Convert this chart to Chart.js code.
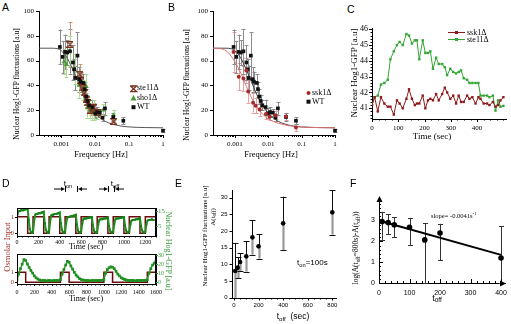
<!DOCTYPE html>
<html>
<head>
<meta charset="utf-8">
<title>Hog1 response figure</title>
<script src="https://cdn.jsdelivr.net/npm/chart.js@4.4.1/dist/chart.umd.min.js"></script>
<style>
  html, body { margin: 0; padding: 0; background: #fff; }
  #fig { position: relative; width: 511px; height: 324px; overflow: hidden; font-family: "Liberation Serif", "Times New Roman", serif; color: #000; }
  #fig canvas, #fig svg { position: absolute; }
  .t { position: absolute; white-space: nowrap; line-height: 1; }
  .c { transform: translate(-50%, -50%); }
  .l { transform: translate(0, -50%); }
  .v { transform: translate(-50%, -50%) rotate(-90deg); }
  .v2 { transform: translate(-50%, -50%) rotate(90deg); }
  .sans { font-family: "Liberation Sans", Arial, sans-serif; }
  .lab { font-family: "Liberation Sans", Arial, sans-serif; font-size: 10.5px; }
  sub, sup { font-size: 72%; line-height: 0; }
  sub { vertical-align: -0.3em; }
  sup { vertical-align: 0.5em; }
</style>
</head>
<body>
<div id="fig">
  <canvas id="chartA" width="155" height="147" style="left:14px;top:3px"></canvas>
  <canvas id="chartB" width="152" height="147" style="left:188px;top:3px"></canvas>
  <canvas id="chartC" width="156" height="112" style="left:355px;top:20px"></canvas>
  <canvas id="chartD1" width="164" height="46" style="left:8px;top:200px"></canvas>
  <canvas id="chartD2" width="164" height="50" style="left:8px;top:248px"></canvas>
  <canvas id="chartE" width="125" height="127" style="left:215px;top:183px"></canvas>
  <canvas id="chartF" width="153" height="110" style="left:358px;top:190px"></canvas>

  <!-- Panel A text -->
  <div class="t lab" style="left:2px;top:1.5px">A</div>
  <div class="t v" style="left:17px;top:84px;font-size:7.5px">Nuclear Hog1-GFP fluctuations [a.u]</div>
  <div class="t c" style="left:101px;top:154px;font-size:8.5px">Frequency [Hz]</div>
  <svg style="left:129.5px;top:84.5px" width="8" height="26">
    <path d="M0.5 1H6.5L0.5 6.6H6.5Z" fill="none" stroke="#7a2e1e" stroke-width="1.3"/>
    <polygon points="3.5,10 6.5,15.5 0.5,15.5" fill="#4a9a35"/>
    <rect x="1.5" y="20.2" width="4" height="4" fill="#111"/>
  </svg>
  <div class="t l" style="left:137px;top:88.3px;font-size:8px">ste11Δ</div>
  <div class="t l" style="left:137px;top:97.5px;font-size:8px">sho1Δ</div>
  <div class="t l" style="left:137px;top:106.7px;font-size:8px">WT</div>

  <!-- Panel B text -->
  <div class="t lab" style="left:168px;top:2px">B</div>
  <div class="t v" style="left:187px;top:85px;font-size:7.5px">Nuclear Hog1-GFP fluctuations [a.u]</div>
  <div class="t c" style="left:271px;top:154px;font-size:8.5px">Frequency [Hz]</div>
  <svg style="left:305px;top:89px" width="8" height="17">
    <circle cx="3.5" cy="4" r="2" fill="#a52a2a"/>
    <rect x="1.5" y="10.7" width="4" height="4" fill="#111"/>
  </svg>
  <div class="t l" style="left:312px;top:93px;font-size:8px">ssk1Δ</div>
  <div class="t l" style="left:312px;top:101.7px;font-size:8px">WT</div>

  <!-- Panel C text -->
  <div class="t lab" style="left:347px;top:3.5px">C</div>
  <div class="t v" style="left:353.5px;top:73px;font-size:9px">Nuclear Hog1-GFP [a.u]</div>
  <div class="t c" style="left:432px;top:136px;font-size:9px">Time (sec)</div>
  <svg style="left:447px;top:29px" width="19" height="14">
    <line x1="1" y1="3.5" x2="18" y2="3.5" stroke="#8e1b1b"/>
    <rect x="8" y="2" width="3" height="3" fill="#8e1b1b"/>
    <line x1="1" y1="10.5" x2="18" y2="10.5" stroke="#34a634"/>
    <rect x="8" y="9" width="3" height="3" fill="#34a634"/>
  </svg>
  <div class="t l" style="left:467px;top:32.5px;font-size:8px">ssk1Δ</div>
  <div class="t l" style="left:467px;top:39.5px;font-size:8px">ste11Δ</div>

  <!-- Panel D text -->
  <div class="t lab" style="left:2px;top:177.5px">D</div>
  <div class="t c sans" style="left:68px;top:184px;font-size:8px">t<sub>on</sub></div>
  <div class="t c sans" style="left:115px;top:184px;font-size:8px">t<sub>off</sub></div>
  <svg style="left:50px;top:184px" width="80" height="10">
    <line x1="4" y1="5" x2="12" y2="5" stroke="#000"/>
    <polygon points="15,5 11,3 11,7" fill="#000"/>
    <line x1="15.5" y1="2" x2="15.5" y2="8" stroke="#000"/>
    <line x1="27.5" y1="2" x2="27.5" y2="8" stroke="#000"/>
    <polygon points="28,5 32,3 32,7" fill="#000"/>
    <line x1="31" y1="5" x2="37" y2="5" stroke="#000"/>
    <line x1="49" y1="5" x2="55" y2="5" stroke="#000"/>
    <polygon points="58,5 54,3 54,7" fill="#000"/>
    <line x1="58.5" y1="2" x2="58.5" y2="8" stroke="#000"/>
    <line x1="64.5" y1="2" x2="64.5" y2="8" stroke="#000"/>
    <polygon points="65,5 69,3 69,7" fill="#000"/>
    <line x1="68" y1="5" x2="74" y2="5" stroke="#000"/>
  </svg>
  <div class="t c" style="left:86px;top:246.5px;font-size:8px">Time (sec)</div>
  <div class="t c" style="left:86px;top:299px;font-size:8px">Time (sec)</div>
  <div class="t v" style="left:7px;top:247px;font-size:8.5px;color:#a33a2e">Osmolar Input</div>
  <div class="t v2" style="left:168px;top:251px;font-size:8px;color:#3d9a3d">Nuclear Hog1-GFP [a.u]</div>

  <!-- Panel E text -->
  <div class="t lab" style="left:175px;top:177.5px">E</div>
  <div class="t v" style="left:205px;top:236px;font-size:6.8px">Nuclear Hog1-GFP fluctuations [a.u]</div>
  <div class="t v" style="left:212.5px;top:217px;font-size:7px">A(t<sub>off</sub>)</div>
  <div class="t l sans" style="left:297px;top:263px;font-size:8px">t<sub>on</sub>=100s</div>
  <div class="t c sans" style="left:293px;top:316px;font-size:8.5px">t<sub>off</sub>&nbsp; (sec)</div>

  <!-- Panel F text -->
  <div class="t lab" style="left:350px;top:177.5px">F</div>
  <div class="t v" style="left:355.5px;top:248px;font-size:7.5px">log(A(t<sub>off</sub>=800s)-A(t<sub>off</sub>))</div>
  <div class="t l" style="left:431px;top:216px;font-size:6.5px">slope= -0.0041s<sup>-1</sup></div>
  <div class="t c sans" style="left:437px;top:298px;font-size:9px">t<sub>off</sub></div>
</div>

<script>
const SERIF = '"Liberation Serif", "Times New Roman", serif';
const SANS = '"Liberation Sans", Arial, sans-serif';
Chart.defaults.font.family = SERIF;
Chart.defaults.color = '#000';

// ---------- data: A and B (frequency response) ----------
const wtFreq = [0.00091, 0.0011, 0.0013, 0.0015, 0.0018, 0.0022, 0.0024, 0.0026, 0.003, 0.0034, 0.0037, 0.0045, 0.0049,
                0.0054, 0.0059, 0.0066, 0.0083, 0.01, 0.0114, 0.0137, 0.0165, 0.0194, 0.034, 0.0675, 1];
const wtVal = [71, 63, 67, 66.5, 67.5, 58.5, 53, 46, 64, 45, 43, 42, 37, 31, 27.5, 24, 22.5, 17.5, 18.5, 18, 14, 21.5, 14.5, 11.5, 3.5];
const wtErr = [14, 13, 14, 10, 18, 14, 8, 10, 19, 10, 8, 7, 6, 6, 5, 4, 6, 4, 4, 3, 3, 5, 3, 3, 1];

const ste11Freq = [0.0018, 0.0035, 0.0038, 0.0042, 0.0048, 0.0055, 0.006, 0.0075, 0.009, 0.012, 0.035];
const ste11Val = [73, 49, 44, 38, 34, 29, 26, 20, 22, 18, 11];
const ste11Err = [18, 8, 6, 5, 6, 5, 5, 4, 4, 3, 2];

const sho1Freq = [0.0012, 0.0014, 0.0018, 0.0025, 0.0033, 0.0045, 0.0055, 0.0058, 0.007, 0.0078, 0.009, 0.011, 0.017, 0.035];
const sho1Val = [59, 57, 68, 53, 40, 36, 39, 22, 20, 18, 20, 17, 20, 16];
const sho1Err = [10, 10, 12, 12, 10, 8, 10, 8, 6, 6, 8, 4, 5, 4];

const ssk1Freq = [0.00091, 0.0013, 0.0018, 0.0022, 0.0025, 0.0035, 0.0042, 0.0055, 0.0085, 0.011, 0.0165, 0.034, 0.0675];
const ssk1Val = [67, 47, 45.5, 52, 35, 26, 23.5, 20.5, 17, 15, 16, 15, 6];
const ssk1Err = [16, 11, 10, 10, 9, 8, 6, 5, 4, 3, 3, 3, 3];

// fitted curves
const wtFitFreq = [0.00022, 0.0005, 0.0008, 0.001, 0.0015, 0.002, 0.003, 0.004, 0.005, 0.007, 0.01, 0.02, 0.05, 0.1, 0.3, 1];
const wtFitVal = [70, 70, 69.5, 68, 62, 55, 44, 36, 30, 23, 17.5, 11, 7.5, 6.5, 6, 5.8];
const ssk1FitFreq = [0.00022, 0.0004, 0.0006, 0.0008, 0.001, 0.0015, 0.002, 0.003, 0.004, 0.005, 0.007, 0.01, 0.02, 0.05, 0.1, 0.3, 1];
const ssk1FitVal = [70, 69.5, 67, 63, 59, 50, 42, 31, 25, 21, 16.5, 13, 9.5, 7.2, 6.5, 6, 5.8];

// ---------- data: C (single step time course) ----------
const cTime = [0, 10, 22, 34, 47, 60, 70, 83, 95, 105, 117, 131, 141, 152, 163, 171, 180, 193, 203, 213,
               222, 232, 244, 254, 267, 277, 286, 298, 309, 320, 330, 339, 349, 362, 371, 382, 394, 405, 413, 425,
               438, 447, 460, 470, 480, 489, 500];
const cSte11 = [41.2, 41.7, 41.8, 42.5, 42.6, 42.8, 44.1, 44.6, 45.0, 45.2, 45.0, 45.7, 45.6, 45.1, 45.3, 45.3, 44.1, 45.3, 44.5, 44.5,
                44.6, 43.5, 44.2, 43.8, 43.8, 43.6, 43.1, 43.5, 43.3, 43.2, 43.3, 43.4, 42.9, 42.8, 42.6, 42.6, 42.6, 42.6, 41.8, 41.8,
                41.8, 41.7, 41.8, 40.85, 41.5, 41.1, 41.15];
const cSsk1 = [41.2, 41.7, 40.8, 41.7, 41.3, 41.1, 41.1, 40.6, 41.5, 41.3, 41.0, 41.6, 42.2, 41.6, 41.2, 41.3, 41.3, 41.8, 41.0, 41.5,
               41.6, 41.5, 41.9, 41.5, 41.9, 42.3, 42.0, 41.6, 41.8, 41.3, 41.8, 41.4, 41.4, 41.8, 41.6, 41.7, 41.3, 41.7, 41.6, 41.3,
               41.3, 41.2, 41.4, 41.1, 41.2, 41.5, 41.7];

// ---------- data: D (pulse trains) ----------
const dTopInT = [0, 100, 150, 250, 300, 400, 450, 550, 600, 700, 750, 850, 900, 1000, 1050, 1150, 1200, 1300];
const dTopInV = [1, 0, 1, 0, 1, 0, 1, 0, 1, 0, 1, 0, 1, 0, 1, 0, 1, 1];
const dTopTime = [0, 10, 20, 30, 40, 50, 60, 70, 80, 90, 100, 110, 120, 130, 140,
                  150, 160, 170, 180, 190, 200, 210, 220, 230, 240, 250, 260, 270, 280, 290,
                  300, 310, 320, 330, 340, 350, 360, 370, 380, 390, 400, 410, 420, 430, 440,
                  450, 460, 470, 480, 490, 500, 510, 520, 530, 540, 550, 560, 570, 580, 590,
                  600, 610, 620, 630, 640, 650, 660, 670, 680, 690, 700, 710, 720, 730, 740,
                  750, 760, 770, 780, 790, 800, 810, 820, 830, 840, 850, 860, 870, 880, 890,
                  900, 910, 920, 930, 940, 950, 960, 970, 980, 990, 1000, 1010, 1020, 1030, 1040,
                  1050, 1060, 1070, 1080, 1090, 1100, 1110, 1120, 1130, 1140, 1150, 1160, 1170, 1180, 1190,
                  1200, 1210, 1220, 1230, 1240, 1250, 1260, 1270, 1280];
const dTopGfp = [11, 14, 15, 15, 15.5, 15.5, 15.5, 16, 16, 16.5, 16.5, 9, 3, 1, 0.5,
                 1, 8, 12.5, 13, 13, 13.5, 13.5, 13.5, 14, 14, 14.5, 7, 2.5, 1, 0.5,
                 1, 8, 12, 12.5, 12.5, 13, 13, 13, 13.5, 13.5, 14, 7, 2.5, 1, 0.5,
                 1, 7, 10.5, 11, 11, 11.5, 11.5, 11.5, 12, 12, 12.5, 6, 2, 1, 0.5,
                 1, 6.5, 9.5, 10, 10, 10, 10.5, 10.5, 10.5, 11, 11, 5.5, 2, 1, 0.5,
                 1, 6, 9, 9.5, 9.5, 9.5, 10, 10, 10, 10.5, 10.5, 5, 2, 1, 0.5,
                 1, 6.5, 9.5, 10, 10, 10, 10.5, 10.5, 10.5, 11, 11, 5.5, 2, 1, 0.5,
                 1, 6, 8.5, 9, 9, 9, 9.5, 9.5, 9.5, 10, 10, 5, 2, 1, 0.5,
                 1, 6, 8.5, 9, 9, 9, 9.5, 9, 9];

const dBotInT = [0, 100, 500, 600, 1000, 1100, 1500, 1600];
const dBotInV = [1, 0, 1, 0, 1, 0, 1, 1];
const dBotTime = [0, 20, 40, 60, 80, 100, 120, 140, 160, 180, 200, 220, 240, 260, 280, 300, 320, 340, 360, 380,
                  400, 420, 440, 460, 480, 500, 520, 540, 560, 580, 600, 620, 640, 660, 680, 700, 720, 740, 760, 780,
                  800, 820, 840, 860, 880, 900, 920, 940, 960, 980, 1000, 1020, 1040, 1060, 1080, 1100, 1120, 1140, 1160, 1180,
                  1200, 1220, 1240, 1260, 1280, 1300, 1320, 1340, 1360, 1380, 1400, 1420, 1440, 1460, 1480, 1500, 1520, 1540, 1560, 1580,
                  1600];
const dBotGfp = [3, 9, 15, 20, 25, 24, 20, 16.5, 13, 10, 7, 5, 3.5, 2.5, 2, 2, 2, 1.5, 2, 2,
                 1.5, 2, 2, 2, 2, 3, 9, 14, 19, 23, 22, 18, 14.5, 11, 8, 6, 4, 3, 2.5, 2,
                 2, 2, 1.5, 2, 2, 2, 2, 2, 2, 2, 3, 10, 14, 16, 17, 16.5, 15, 12, 9, 7,
                 5, 4, 3, 2.5, 2, 2, 2, 2, 1.5, 2, 2, 2, 2, 2, 2, 3, 10, 15, 19, 21,
                 23];

// ---------- data: E and F (recovery vs t_off) ----------
const eToff = [10, 30, 50, 100, 150, 200, 400, 800];
const eAmp = [8, 9, 10.7, 12.4, 18.1, 15.4, 22.3, 25.6];
const eErr = [8.3, 3.2, 2.7, 4.6, 5.2, 3.7, 8, 6.7];

const fToff = [10, 30, 50, 100, 150, 200, 400];
const fLog = [2.95, 2.9, 2.8, 2.68, 2.07, 2.4, 1.2];
const fLow = [2.07, 2.35, 2.19, 1.83, 0, 1.1, 0];
const fHigh = [3.42, 3.29, 3.16, 3.13, 2.88, 2.84, 2.72];
const fFitT = [10, 400];
const fFitV = [2.95, 1.35];

// ---------- tick values ----------
const freqTicks = [0.001, 0.01, 0.1, 1];
const hogTicks = [0, 20, 40, 60, 80, 100];
const cTimeTicks = [0, 100, 200, 300, 400];
const cHogTicks = [41, 42, 43, 44, 45, 46];
const dTopTimeTicks = [0, 200, 400, 600, 800, 1000, 1200];
const dBotTimeTicks = [0, 200, 400, 600, 800, 1000, 1200, 1400, 1600];
const dInputTicks = [0, 1];
const dTopGfpTicks = [5, 15];
const dBotGfpTicks = [0, 10, 20, 30];
const eToffTicks = [0, 200, 400, 600, 800];
const eAmpTicks = [0, 5, 10, 15, 20, 25, 30];
const fToffTicks = [0, 100, 200, 300, 400];
const fLogTicks = [0, 1, 2, 3];

// minor tick positions
function steps(a, b, step) {
  const out = [];
  for (let i = 0; a + i * step <= b + 1e-9; i++) out.push(+(a + i * step).toFixed(4));
  return out;
}
const logMinor = [];
[0.0001, 0.001, 0.01, 0.1].forEach(d => { for (let k = 2; k <= 9; k++) logMinor.push(d * k); });

// ---------- colours ----------
const RED_DARK = '#8e1b1b';
const GREEN = '#34a634';
const D_RED = '#6b0c0c';
const D_GREEN = '#1f931f';

// ---------- helpers ----------
function pts(xs, ys) { return xs.map((x, i) => ({ x: x, y: ys[i] })); }

function errSeries(xs, ys, errs, style) {
  return Object.assign({
    data: pts(xs, ys),
    errLow: ys.map((y, i) => y - errs[i]),
    errHigh: ys.map((y, i) => y + errs[i]),
    showLine: false,
    clip: false
  }, style);
}

function scale(o) {
  return {
    type: o.type || 'linear',
    position: o.pos,
    min: o.min,
    max: o.max,
    grid: { display: false, drawTicks: false },
    border: { display: true, color: '#000', width: 1 },
    ticks: {
      font: { family: o.family || SERIF, size: o.size || 7 },
      color: o.color || '#000',
      padding: o.pad == null ? 4 : o.pad,
      autoSkip: false,
      maxRotation: 0,
      minRotation: 0,
      callback: v => String(v)
    },
    afterBuildTicks: s => { s.ticks = o.ticks.map(v => ({ value: v })); },
    afterFit: s => {
      if (s.isHorizontal()) s.height = o.fit; else s.width = o.fit;
      s.paddingLeft = s.paddingRight = s.paddingTop = s.paddingBottom = 0;
    }
  };
}

function base(scales, pad) {
  return {
    responsive: false,
    animation: false,
    devicePixelRatio: 1,
    events: [],
    layout: { padding: { left: 0, top: pad.top || 0, right: pad.right || 0, bottom: 0 } },
    plugins: { legend: { display: false }, tooltip: { enabled: false } },
    scales: scales
  };
}

// tick marks (major + minor), dir 1 = outward, -1 = inward
function marks(list) {
  return {
    id: 'marks',
    afterDraw(chart) {
      const ctx = chart.ctx;
      list.forEach(a => {
        const s = chart.scales[a.id];
        ctx.save();
        ctx.strokeStyle = a.color || '#000';
        ctx.lineWidth = 1;
        ctx.beginPath();
        const put = (vals, len) => vals.forEach(v => {
          if (v < s.min - 1e-9 || v > s.max + 1e-9) return;
          const p = Math.round(s.getPixelForValue(v)) + 0.5;
          if (s.isHorizontal()) {
            const y0 = Math.round(s.top);
            ctx.moveTo(p, y0); ctx.lineTo(p, y0 + a.dir * len);
          } else {
            const right = s.position === 'right';
            const x0 = Math.round(right ? s.left : s.right);
            ctx.moveTo(x0, p); ctx.lineTo(x0 + (right ? 1 : -1) * a.dir * len, p);
          }
        });
        put(a.major, a.len || 3);
        put(a.minor || [], a.mlen || 1.5);
        ctx.stroke();
        ctx.restore();
      });
    }
  };
}

// error bars from dataset.errLow / errHigh
const errorBars = {
  id: 'errorBars',
  beforeDatasetsDraw(chart) {
    const ctx = chart.ctx;
    const area = chart.chartArea;
    chart.data.datasets.forEach((ds, i) => {
      if (!ds.errLow) return;
      const meta = chart.getDatasetMeta(i);
      const ys = chart.scales[meta.yAxisID];
      ctx.save();
      meta.data.forEach((pt, j) => {
        const x = Math.round(pt.x) + 0.5;
        const lo = Math.min(ys.getPixelForValue(ds.errLow[j]), area.bottom);
        const hi = ys.getPixelForValue(ds.errHigh[j]);
        const c = ds.capHalf || 2;
        if (ds.errLowColor) {
          ctx.strokeStyle = ds.errLowColor;
          ctx.lineWidth = ds.errLowWidth || 2;
          ctx.beginPath(); ctx.moveTo(x, pt.y); ctx.lineTo(x, lo); ctx.stroke();
        }
        ctx.strokeStyle = ds.errColor;
        ctx.lineWidth = 1;
        ctx.beginPath();
        ctx.moveTo(x, hi); ctx.lineTo(x, ds.errLowColor ? pt.y : lo);
        ctx.moveTo(x - c, Math.round(hi) + 0.5); ctx.lineTo(x + c, Math.round(hi) + 0.5);
        ctx.moveTo(x - c, Math.round(lo) + 0.5); ctx.lineTo(x + c, Math.round(lo) + 0.5);
        ctx.stroke();
      });
      ctx.restore();
    });
  }
};
Chart.register(errorBars);

// closed frame around the plot (panel D)
const frame = {
  id: 'frame',
  afterDraw(chart) {
    const a = chart.chartArea, ctx = chart.ctx;
    ctx.save();
    ctx.strokeStyle = '#000';
    ctx.lineWidth = 1;
    ctx.strokeRect(Math.round(a.left) + 0.5, Math.round(a.top) + 0.5, Math.round(a.right - a.left) - 1, Math.round(a.bottom - a.top));
    ctx.restore();
  }
};

// arrow heads on the axes (panel F)
const arrows = {
  id: 'arrows',
  afterDraw(chart) {
    const a = chart.chartArea, ctx = chart.ctx;
    const l = Math.round(a.left) + 0.5, b = Math.round(a.bottom) + 0.5;
    ctx.save();
    ctx.fillStyle = '#000';
    ctx.beginPath(); ctx.moveTo(l, a.top - 1); ctx.lineTo(l - 3, a.top + 5); ctx.lineTo(l + 3, a.top + 5); ctx.closePath(); ctx.fill();
    ctx.beginPath(); ctx.moveTo(a.right + 1, b); ctx.lineTo(a.right - 5, b - 3); ctx.lineTo(a.right - 5, b + 3); ctx.closePath(); ctx.fill();
    ctx.restore();
  }
};

// hourglass marker for ste11
function hourglass(color) {
  const c = document.createElement('canvas');
  c.width = 7; c.height = 7;
  const g = c.getContext('2d');
  g.strokeStyle = color;
  g.lineWidth = 1.3;
  g.beginPath();
  g.moveTo(0.5, 0.7); g.lineTo(6.5, 0.7); g.lineTo(0.5, 6.3); g.lineTo(6.5, 6.3); g.closePath();
  g.stroke();
  return c;
}

const wtStyle = { pointStyle: 'rect', pointRadius: 2.6, backgroundColor: '#111', borderColor: '#111', borderWidth: 0, errColor: '#8c8c8c', capHalf: 2 };
const freqX = () => scale({ type: 'logarithmic', pos: 'bottom', min: 0.00022, max: 1, ticks: freqTicks, fit: 15, size: 7, pad: 5 });
const hogY = () => scale({ pos: 'left', min: 0, max: 100, ticks: hogTicks, fit: 25, size: 7, pad: 5 });
const freqMarks = () => marks([
  { id: 'x', major: freqTicks, minor: logMinor, dir: 1, len: 3, mlen: 2 },
  { id: 'y', major: hogTicks, dir: 1, len: 3 }
]);

// Panel A
new Chart(document.getElementById('chartA'), {
  type: 'scatter',
  data: {
    datasets: [
      errSeries(wtFreq, wtVal, wtErr, wtStyle),
      errSeries(ste11Freq, ste11Val, ste11Err, { pointStyle: hourglass('#7a2e1e'), pointRadius: 3, errColor: '#c99a82', capHalf: 2 }),
      errSeries(sho1Freq, sho1Val, sho1Err, { pointStyle: 'triangle', pointRadius: 2.8, backgroundColor: '#4a9a35', borderColor: '#4a9a35', borderWidth: 0, errColor: '#a6dc8c', capHalf: 2 }),
      { data: pts(wtFitFreq, wtFitVal), showLine: true, pointRadius: 0, borderColor: '#555', borderWidth: 1, cubicInterpolationMode: 'monotone' }
    ]
  },
  options: base({ x: freqX(), y: hogY() }, { top: 8, right: 6 }),
  plugins: [freqMarks()]
});

// Panel B
new Chart(document.getElementById('chartB'), {
  type: 'scatter',
  data: {
    datasets: [
      errSeries(ssk1Freq, ssk1Val, ssk1Err, { pointStyle: 'circle', pointRadius: 2, backgroundColor: '#a52a2a', borderColor: '#a52a2a', borderWidth: 0, errColor: '#eaa0a0', capHalf: 2 }),
      errSeries(wtFreq, wtVal, wtErr, wtStyle),
      { data: pts(ssk1FitFreq, ssk1FitVal), showLine: true, pointRadius: 0, borderColor: '#e07070', borderWidth: 1, cubicInterpolationMode: 'monotone' },
      { data: pts(wtFitFreq, wtFitVal), showLine: true, pointRadius: 0, borderColor: '#444', borderWidth: 1, cubicInterpolationMode: 'monotone' }
    ]
  },
  options: base({ x: freqX(), y: hogY() }, { top: 8, right: 5 }),
  plugins: [freqMarks()]
});

// Panel C
new Chart(document.getElementById('chartC'), {
  type: 'scatter',
  data: {
    datasets: [
      { data: pts(cTime, cSsk1), showLine: true, borderColor: RED_DARK, backgroundColor: RED_DARK, borderWidth: 1, pointStyle: 'rect', pointRadius: 1.7, pointBorderWidth: 0 },
      { data: pts(cTime, cSte11), showLine: true, borderColor: GREEN, backgroundColor: GREEN, borderWidth: 1, pointStyle: 'rect', pointRadius: 1.7, pointBorderWidth: 0 }
    ]
  },
  options: base({
    x: scale({ pos: 'bottom', min: 0, max: 510, ticks: cTimeTicks, fit: 13, size: 7, pad: 5 }),
    y: scale({ pos: 'left', min: 40.32, max: 46.08, ticks: cHogTicks, fit: 17, size: 8, pad: 4 })
  }, { top: 8, right: 5 }),
  plugins: [marks([
    { id: 'x', major: cTimeTicks, minor: steps(0, 510, 25), dir: 1, len: 3, mlen: 1.5 },
    { id: 'y', major: cHogTicks, minor: steps(40.4, 46, 0.2), dir: 1, len: 3, mlen: 1.5 }
  ])]
});

// Panel D, upper pulse train (t_on = 100 s, t_off = 50 s)
new Chart(document.getElementById('chartD1'), {
  type: 'scatter',
  data: {
    datasets: [
      { data: pts(dTopTime, dTopGfp), yAxisID: 'yR', showLine: true, borderColor: D_GREEN, backgroundColor: '#17801a', borderWidth: 2, pointStyle: 'rect', pointRadius: 1.3, pointBorderWidth: 0 },
      { type: 'line', data: pts(dTopInT, dTopInV), yAxisID: 'yL', stepped: 'before', borderColor: D_RED, borderWidth: 1.5, pointRadius: 0, fill: false }
    ]
  },
  options: base({
    x: scale({ pos: 'bottom', min: 0, max: 1300, ticks: dTopTimeTicks, fit: 10, size: 6, pad: 2.5 }),
    yL: scale({ pos: 'left', min: -0.16, max: 1.52, ticks: dInputTicks, fit: 9, size: 7, pad: 3, color: '#a33a2e' }),
    yR: scale({ pos: 'right', min: -1.67, max: 17, ticks: dTopGfpTicks, fit: 16, size: 7, pad: 2, color: '#3d9a3d' })
  }, { top: 8, right: 0 }),
  plugins: [frame, marks([
    { id: 'x', major: dTopTimeTicks, minor: steps(0, 1300, 50), dir: 1, len: 2, mlen: 1.5 },
    { id: 'yL', major: dInputTicks, dir: 1, len: 2 },
    { id: 'yR', major: dTopGfpTicks, dir: 1, len: 2, color: '#3d9a3d' }
  ])]
});

// Panel D, lower pulse train (t_on = 100 s, t_off = 400 s)
new Chart(document.getElementById('chartD2'), {
  type: 'scatter',
  data: {
    datasets: [
      { data: pts(dBotTime, dBotGfp), yAxisID: 'yR', showLine: true, borderColor: '#2ca02c', backgroundColor: '#1f8f1f', borderWidth: 1.5, pointStyle: 'rect', pointRadius: 1.9, pointBorderWidth: 0 },
      { type: 'line', data: pts(dBotInT, dBotInV), yAxisID: 'yL', stepped: 'before', borderColor: D_RED, borderWidth: 1.5, pointRadius: 0, fill: false }
    ]
  },
  options: base({
    x: scale({ pos: 'bottom', min: 0, max: 1600, ticks: dBotTimeTicks, fit: 14, size: 6, pad: 5 }),
    yL: scale({ pos: 'left', min: -0.17, max: 2.83, ticks: dInputTicks, fit: 9, size: 7, pad: 3, color: '#a33a2e' }),
    yR: scale({ pos: 'right', min: -1.87, max: 31.1, ticks: dBotGfpTicks, fit: 16, size: 6, pad: 2, color: '#3d9a3d' })
  }, { top: 6, right: 0 }),
  plugins: [frame, marks([
    { id: 'x', major: dBotTimeTicks, minor: steps(0, 1600, 50), dir: 1, len: 2, mlen: 1.5 },
    { id: 'yL', major: dInputTicks, dir: 1, len: 2 },
    { id: 'yR', major: dBotGfpTicks, dir: 1, len: 2, color: '#3d9a3d' }
  ])]
});

// Panel E
new Chart(document.getElementById('chartE'), {
  type: 'scatter',
  data: {
    datasets: [
      errSeries(eToff, eAmp, eErr, { pointStyle: 'circle', pointRadius: 2.3, backgroundColor: '#000', borderColor: '#000', borderWidth: 0,
        errColor: '#111', errLowColor: '#9a9a9a', errLowWidth: 2.2, capHalf: 3 })
    ]
  },
  options: base({
    x: scale({ pos: 'bottom', min: -16, max: 830, ticks: eToffTicks, fit: 12, size: 6, pad: 4, family: SANS }),
    y: scale({ pos: 'left', min: -0.1, max: 32.3, ticks: eAmpTicks, fit: 17, size: 6, pad: 4.5, family: SANS })
  }, { top: 7, right: 3 }),
  plugins: [marks([
    { id: 'x', major: eToffTicks, minor: steps(0, 800, 50), dir: 1, len: 2.5, mlen: 1.5 },
    { id: 'y', major: eAmpTicks, dir: 1, len: 2.5 }
  ])]
});

// Panel F
new Chart(document.getElementById('chartF'), {
  type: 'scatter',
  data: {
    datasets: [
      { data: pts(fToff, fLog), errLow: fLow, errHigh: fHigh, errColor: '#333', capHalf: 2.5, showLine: false, clip: false,
        pointStyle: 'circle', pointRadius: 2.8, backgroundColor: '#000', borderColor: '#000', borderWidth: 0 },
      { data: pts(fFitT, fFitV), showLine: true, pointRadius: 0, borderColor: '#000', borderWidth: 2 }
    ]
  },
  options: base({
    x: scale({ pos: 'bottom', min: 0, max: 413, ticks: fToffTicks, fit: 17, size: 7, pad: 6, family: SANS }),
    y: scale({ pos: 'left', min: 0, max: 4.13, ticks: fLogTicks, fit: 21, size: 7, pad: 4, family: SANS })
  }, { top: 7, right: 6 }),
  plugins: [arrows, marks([
    { id: 'x', major: fToffTicks, minor: steps(0, 400, 20), dir: -1, len: 4, mlen: 2 },
    { id: 'y', major: fLogTicks, minor: steps(0, 4, 0.2), dir: -1, len: 4, mlen: 2 }
  ])]
});
</script>
</body>
</html>
